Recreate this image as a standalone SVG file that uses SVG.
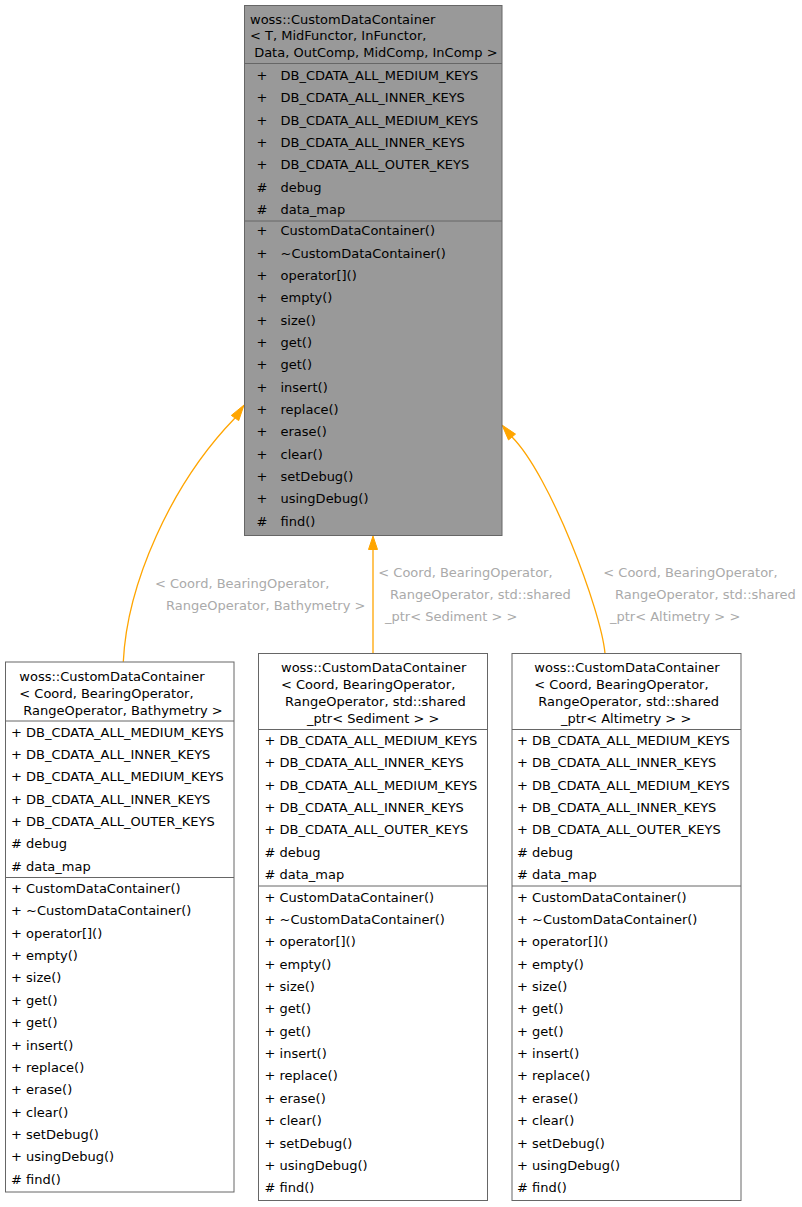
<svg xmlns="http://www.w3.org/2000/svg" width="802" height="1207" viewBox="0 0 802 1207">
<style>
text{font-family:"DejaVu Sans","Liberation Sans",sans-serif;font-size:13px;fill:#000}
.lbl{fill:#aaaaaa}
.sym{text-anchor:middle}
.box{stroke:#666666;stroke-width:1}
.div{stroke:#666666;stroke-width:1}
.edge{fill:none;stroke:#FFA500;stroke-width:1.3}
.head{fill:#FFA500;stroke:#FFA500;stroke-width:1}
</style>
<rect x="0" y="0" width="802" height="1207" fill="#ffffff"/>

<g id="connectors">
  <path class="edge" d="M123.3,661.7 C127,585 170,485 235,418"/>
  <polygon class="head" points="244,405 238.7,420.6 231.3,415.4"/>
  <path class="edge" d="M373,653.5 L373,549"/>
  <polygon class="head" points="373,536 377.5,549.5 368.5,549.5"/>
  <path class="edge" d="M605,653.3 C601,610 550,475 512,437"/>
  <polygon class="head" points="502,425 515.5,434.1 508.5,439.9"/>
  <text class="lbl" x="155" y="587.7">&lt; Coord, BearingOperator,</text>
  <text class="lbl" x="166" y="610.4">RangeOperator, Bathymetry &gt;</text>
  <text class="lbl" x="378.3" y="577">&lt; Coord, BearingOperator,</text>
  <text class="lbl" x="390" y="599.3">RangeOperator, std::shared</text>
  <text class="lbl" x="385" y="621.4">_ptr&lt; Sediment &gt; &gt;</text>
  <text class="lbl" x="603.3" y="577">&lt; Coord, BearingOperator,</text>
  <text class="lbl" x="615" y="599.3">RangeOperator, std::shared</text>
  <text class="lbl" x="610" y="621.4">_ptr&lt; Altimetry &gt; &gt;</text>
</g>

<g id="node-base">
  <rect class="box" x="244.5" y="5.5" width="257.5" height="530" fill="#999999"/>
  <line class="div" x1="244.5" y1="63.5" x2="502" y2="63.5"/>
  <line class="div" x1="244.5" y1="221" x2="502" y2="221"/>
  <text x="250" y="23.7">woss::CustomDataContainer</text>
  <text x="250" y="40.4">&lt; T, MidFunctor, InFunctor,</text>
  <text x="250" y="57">&#160;Data, OutComp, MidComp, InComp &gt;</text>
  <text class="sym" x="262" y="80">+</text><text x="280.5" y="80">DB_CDATA_ALL_MEDIUM_KEYS</text>
  <text class="sym" x="262" y="102.3">+</text><text x="280.5" y="102.3">DB_CDATA_ALL_INNER_KEYS</text>
  <text class="sym" x="262" y="124.6">+</text><text x="280.5" y="124.6">DB_CDATA_ALL_MEDIUM_KEYS</text>
  <text class="sym" x="262" y="147">+</text><text x="280.5" y="147">DB_CDATA_ALL_INNER_KEYS</text>
  <text class="sym" x="262" y="169.3">+</text><text x="280.5" y="169.3">DB_CDATA_ALL_OUTER_KEYS</text>
  <text class="sym" x="262" y="191.6">#</text><text x="280.5" y="191.6">debug</text>
  <text class="sym" x="262" y="214">#</text><text x="280.5" y="214">data_map</text>
  <text class="sym" x="262" y="235.4">+</text><text x="280.5" y="235.4">CustomDataContainer()</text>
  <text class="sym" x="262" y="257.7">+</text><text x="280.5" y="257.7">~CustomDataContainer()</text>
  <text class="sym" x="262" y="280.1">+</text><text x="280.5" y="280.1">operator[]()</text>
  <text class="sym" x="262" y="302.4">+</text><text x="280.5" y="302.4">empty()</text>
  <text class="sym" x="262" y="324.7">+</text><text x="280.5" y="324.7">size()</text>
  <text class="sym" x="262" y="347.1">+</text><text x="280.5" y="347.1">get()</text>
  <text class="sym" x="262" y="369.4">+</text><text x="280.5" y="369.4">get()</text>
  <text class="sym" x="262" y="391.7">+</text><text x="280.5" y="391.7">insert()</text>
  <text class="sym" x="262" y="414">+</text><text x="280.5" y="414">replace()</text>
  <text class="sym" x="262" y="436.4">+</text><text x="280.5" y="436.4">erase()</text>
  <text class="sym" x="262" y="458.7">+</text><text x="280.5" y="458.7">clear()</text>
  <text class="sym" x="262" y="481">+</text><text x="280.5" y="481">setDebug()</text>
  <text class="sym" x="262" y="503.4">+</text><text x="280.5" y="503.4">usingDebug()</text>
  <text class="sym" x="262" y="525.7">#</text><text x="280.5" y="525.7">find()</text>
</g>

<g id="node-bathymetry">
  <rect class="box" x="5.5" y="662" width="228.5" height="530" fill="#ffffff"/>
  <line class="div" x1="5.5" y1="721" x2="234" y2="721"/>
  <line class="div" x1="5.5" y1="877.5" x2="234" y2="877.5"/>
  <text x="19.3" y="680.7">woss::CustomDataContainer</text>
  <text x="19.3" y="697.7">&lt; Coord, BearingOperator,</text>
  <text x="23.3" y="714.7">RangeOperator, Bathymetry &gt;</text>
  <text x="11" y="736.5">+ DB_CDATA_ALL_MEDIUM_KEYS</text>
  <text x="11" y="758.9">+ DB_CDATA_ALL_INNER_KEYS</text>
  <text x="11" y="781.2">+ DB_CDATA_ALL_MEDIUM_KEYS</text>
  <text x="11" y="803.6">+ DB_CDATA_ALL_INNER_KEYS</text>
  <text x="11" y="825.9">+ DB_CDATA_ALL_OUTER_KEYS</text>
  <text x="11" y="848.3"># debug</text>
  <text x="11" y="870.7"># data_map</text>
  <text x="11" y="893">+ CustomDataContainer()</text>
  <text x="11" y="915.4">+ ~CustomDataContainer()</text>
  <text x="11" y="937.7">+ operator[]()</text>
  <text x="11" y="960.1">+ empty()</text>
  <text x="11" y="982.4">+ size()</text>
  <text x="11" y="1004.8">+ get()</text>
  <text x="11" y="1027.2">+ get()</text>
  <text x="11" y="1049.5">+ insert()</text>
  <text x="11" y="1071.9">+ replace()</text>
  <text x="11" y="1094.2">+ erase()</text>
  <text x="11" y="1116.6">+ clear()</text>
  <text x="11" y="1139">+ setDebug()</text>
  <text x="11" y="1161.3">+ usingDebug()</text>
  <text x="11" y="1183.7"># find()</text>
</g>

<g id="node-sediment">
  <rect class="box" x="258.5" y="653.5" width="229" height="547" fill="#ffffff"/>
  <line class="div" x1="258.5" y1="729.5" x2="487.5" y2="729.5"/>
  <line class="div" x1="258.5" y1="886" x2="487.5" y2="886"/>
  <text x="281" y="671.7">woss::CustomDataContainer</text>
  <text x="281" y="688.7">&lt; Coord, BearingOperator,</text>
  <text x="285" y="705.7">RangeOperator, std::shared</text>
  <text x="307" y="722.7">_ptr&lt; Sediment &gt; &gt;</text>
  <text x="264.5" y="745">+ DB_CDATA_ALL_MEDIUM_KEYS</text>
  <text x="264.5" y="767.4">+ DB_CDATA_ALL_INNER_KEYS</text>
  <text x="264.5" y="789.7">+ DB_CDATA_ALL_MEDIUM_KEYS</text>
  <text x="264.5" y="812.1">+ DB_CDATA_ALL_INNER_KEYS</text>
  <text x="264.5" y="834.4">+ DB_CDATA_ALL_OUTER_KEYS</text>
  <text x="264.5" y="856.8"># debug</text>
  <text x="264.5" y="879.2"># data_map</text>
  <text x="264.5" y="901.5">+ CustomDataContainer()</text>
  <text x="264.5" y="923.9">+ ~CustomDataContainer()</text>
  <text x="264.5" y="946.2">+ operator[]()</text>
  <text x="264.5" y="968.6">+ empty()</text>
  <text x="264.5" y="990.9">+ size()</text>
  <text x="264.5" y="1013.3">+ get()</text>
  <text x="264.5" y="1035.7">+ get()</text>
  <text x="264.5" y="1058">+ insert()</text>
  <text x="264.5" y="1080.4">+ replace()</text>
  <text x="264.5" y="1102.7">+ erase()</text>
  <text x="264.5" y="1125.1">+ clear()</text>
  <text x="264.5" y="1147.5">+ setDebug()</text>
  <text x="264.5" y="1169.8">+ usingDebug()</text>
  <text x="264.5" y="1192.2"># find()</text>
</g>

<g id="node-altimetry">
  <rect class="box" x="512" y="653.5" width="229" height="547" fill="#ffffff"/>
  <line class="div" x1="512" y1="729.5" x2="741" y2="729.5"/>
  <line class="div" x1="512" y1="886" x2="741" y2="886"/>
  <text x="534.3" y="671.7">woss::CustomDataContainer</text>
  <text x="534.3" y="688.7">&lt; Coord, BearingOperator,</text>
  <text x="538.3" y="705.7">RangeOperator, std::shared</text>
  <text x="561" y="722.7">_ptr&lt; Altimetry &gt; &gt;</text>
  <text x="517" y="745">+ DB_CDATA_ALL_MEDIUM_KEYS</text>
  <text x="517" y="767.4">+ DB_CDATA_ALL_INNER_KEYS</text>
  <text x="517" y="789.7">+ DB_CDATA_ALL_MEDIUM_KEYS</text>
  <text x="517" y="812.1">+ DB_CDATA_ALL_INNER_KEYS</text>
  <text x="517" y="834.4">+ DB_CDATA_ALL_OUTER_KEYS</text>
  <text x="517" y="856.8"># debug</text>
  <text x="517" y="879.2"># data_map</text>
  <text x="517" y="901.5">+ CustomDataContainer()</text>
  <text x="517" y="923.9">+ ~CustomDataContainer()</text>
  <text x="517" y="946.2">+ operator[]()</text>
  <text x="517" y="968.6">+ empty()</text>
  <text x="517" y="990.9">+ size()</text>
  <text x="517" y="1013.3">+ get()</text>
  <text x="517" y="1035.7">+ get()</text>
  <text x="517" y="1058">+ insert()</text>
  <text x="517" y="1080.4">+ replace()</text>
  <text x="517" y="1102.7">+ erase()</text>
  <text x="517" y="1125.1">+ clear()</text>
  <text x="517" y="1147.5">+ setDebug()</text>
  <text x="517" y="1169.8">+ usingDebug()</text>
  <text x="517" y="1192.2"># find()</text>
</g>
</svg>
